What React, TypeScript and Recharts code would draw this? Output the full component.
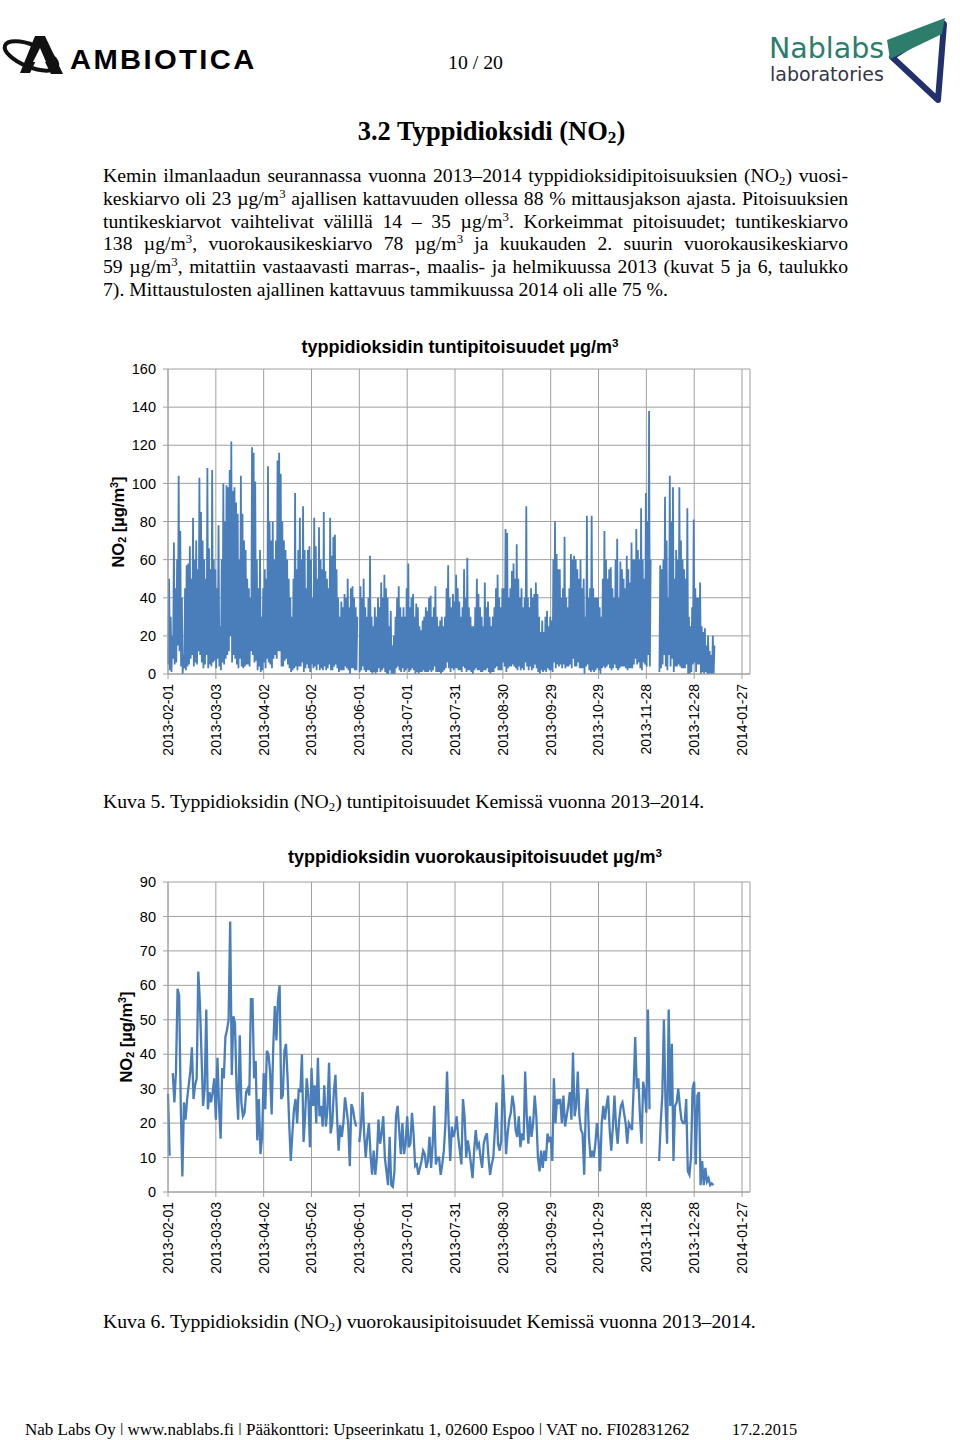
import React from "react";
import { LineChart, Line, XAxis, YAxis, CartesianGrid } from "recharts";

// x axis: days from 2013-02-01, Excel date axis with a 30 day major unit
const dayTicks = [0, 30, 60, 90, 120, 150, 180, 210, 240, 270, 300, 330, 360];
const dateLabels = [
  "2013-02-01", "2013-03-03", "2013-04-02", "2013-05-02", "2013-06-01", "2013-07-01", "2013-07-31",
  "2013-08-30", "2013-09-29", "2013-10-29", "2013-11-28", "2013-12-28", "2014-01-27",
];
const hourTicks = [0, 20, 40, 60, 80, 100, 120, 140, 160];
const dayValueTicks = [0, 10, 20, 30, 40, 50, 60, 70, 80, 90];

// highest hourly NO2 of each day (µg/m3), read off Kuva 5; null = no data
const hourlyPeak = [
  50, 30, 20, 69, 45, 60, 104, 75, 40, 10,
  45, 57, 58, 67, 50, 82, 60, 70, 55, 103,
  85, 70, 60, 50, 108, 66, 55, 107, 60, 55,
  45, 78, 25, 60, 100, 80, 99, 98, 107, 122,
  96, 98, 90, 84, 60, 104, 84, 70, 65, 50,
  45, 40, 119, 116, 101, 60, 45, 65, 30, 45,
  55, 50, 109, 80, 70, 80, 60, 70, 112, 116,
  105, 80, 70, 65, 60, 50, 40, 30, 50, 95,
  55, 65, 82, 60, 88, 65, 45, 65, 67, 60,
  40, 82, 67, 50, 77, 60, 55, 85, 54, 50,
  45, 82, 62, 72, 73, 55, 40, 30, 38, 35,
  42, 40, 50, 35, 45, 46, 40, 35, 30, null,
  46, 40, 50, 35, 30, 40, 62, 30, 25, 35,
  30, 40, 35, 48, 40, 52, 45, 40, 25, 33,
  15, 20, 30, 40, 46, 35, 30, 35, 30, 45,
  58, 35, 40, 42, 30, 37, 35, 25, 23, 28,
  30, 35, 33, 40, 41, 30, 35, 46, 30, 25,
  28, 30, 25, 30, 45, 57, 40, 35, 42, 38,
  52, 45, 38, 30, 35, 55, 40, 61, 35, 30,
  25, 25, 35, 50, 42, 35, 30, 25, 48, 35,
  38, 30, 25, 30, 35, 45, 52, 40, 35, 45,
  45, 76, 74, 40, 45, 54, 58, 50, 68, 50,
  40, 45, 35, 40, 88, 40, 35, 45, 40, 42,
  48, 42, 30, 22, 28, 22, 30, 33, 25, 30,
  28, 60, 80, 63, 55, 55, 40, 45, 72, 40,
  35, 45, 63, 60, 62, 60, 55, 50, 60, 45,
  50, 30, 83, 40, 45, 83, 45, 40, 40, 40,
  35, 30, 50, 75, 60, 50, 55, 56, 45, 40,
  60, 71, 40, 59, 55, 50, 45, 62, 55, 48,
  69, 60, 60, 76, 65, 60, 87, 60, 50, 95,
  80, 138, 60, null, null, null, null, null, 57, 55,
  60, 93, 70, 40, 104, 80, 98, 50, 65, 60,
  98, 70, 60, 55, 50, 87, 30, 25, 35, 81,
  45, 40, 40, 48, 25, 22, 24, 15, 20, 12,
  10, 20, 15,
];

// lowest hourly NO2 of each day (µg/m3), estimated from the bottom of Kuva 5
const hourlyLow = [
  5, 2, 1, 8, 5, 6, 15, 12, 4, 0,
  3, 2, 4, 5, 8, 10, 4, 6, 5, 12,
  10, 6, 3, 5, 10, 3, 5, 4, 6, 7,
  3, 8, 4, 2, 6, 5, 8, 10, 12, 20,
  6, 10, 8, 5, 3, 8, 4, 3, 4, 5,
  5, 4, 12, 10, 6, 7, 2, 4, 1, 2,
  6, 3, 8, 6, 5, 3, 8, 10, 8, 12,
  12, 4, 4, 7, 8, 5, 3, 1, 2, 3,
  4, 2, 4, 4, 6, 1, 3, 5, 3, 1,
  5, 3, 4, 2, 5, 2, 3, 2, 4, 2,
  3, 5, 2, 2, 4, 5, 3, 1, 2, 2,
  2, 4, 3, 2, 0, 3, 3, 2, 2, null,
  1, 2, 4, 2, 1, 2, 2, 1, 0, 1,
  0, 1, 3, 1, 2, 3, 1, 0, 0, 2,
  0, 0, 0, 3, 4, 2, 1, 3, 1, 2,
  3, 1, 2, 3, 2, 0, 1, 0, 1, 1,
  2, 1, 1, 1, 2, 1, 2, 4, 1, 1,
  1, 0, 1, 2, 3, 6, 3, 1, 3, 2,
  3, 3, 2, 2, 1, 4, 3, 1, 2, 2,
  1, 0, 2, 3, 2, 2, 1, 1, 2, 2,
  3, 1, 0, 1, 1, 3, 4, 2, 2, 2,
  6, 4, 1, 3, 4, 4, 5, 4, 3, 2,
  4, 2, 3, 2, 6, 4, 2, 4, 2, 3,
  5, 3, 1, 0, 2, 1, 2, 1, 3, 2,
  2, 1, 6, 3, 5, 4, 5, 3, 5, 3,
  4, 4, 5, 3, 8, 4, 4, 6, 3, 3,
  3, 0, 4, 5, 2, 1, 2, 1, 2, 3,
  2, 0, 3, 4, 3, 4, 5, 3, 2, 3,
  5, 3, 2, 3, 4, 4, 4, 3, 2, 3,
  3, 3, 5, 8, 5, 6, 3, 2, 6, 5,
  4, 10, 4, null, null, null, null, null, 1, 3,
  5, 10, 4, 2, 10, 4, 8, 1, 4, 4,
  5, 4, 3, 3, 3, 5, 0, 0, 1, 5,
  6, 1, 5, 5, 0, 1, 0, 1, 0, 0,
  0, 0, 0,
];

// daily mean NO2 (µg/m3), read off Kuva 6; null = no data
const dailyMean = [
  28.5, 10.5, null, 34.5, 26, 35, 59, 57, 25, 4.5,
  26, 21, 27, 31, 35, 42, 27, 31, 33, 64,
  55, 40, 25, 30, 53, 24, 29, 26, 29, 33,
  21, 39, 25, 15.5, 36, 33, 45, 47, 50, 78.5,
  34, 51, 49, 30, 21, 45.5, 26, 22, 23, 29,
  30, 28, 56, 56, 33, 38, 15, 27, 11, 16,
  34.5, 24, 41, 40, 35, 22.5, 42, 54, 44, 56,
  60, 27, 28, 41, 43, 33, 20, 9, 17, 24,
  27, 20, 30, 29, 40, 14.5, 22, 33, 28, 13,
  36, 25, 31, 20, 39, 22, 25, 19, 31, 19,
  24, 37.5, 17, 20, 29, 34, 22, 12, 19.5, 16,
  20, 27.5, 24, 20, 7.5, 25.5, 24, 21, 19, null,
  14.5, 19, 29, 17, 10, 16, 20, 11, 5, 12,
  5, 10, 21, 14, 17, 22, 10, 6, 2, 16,
  2, 1.5, 6, 22, 25, 18, 11, 20, 11, 14,
  22, 13, 14, 23, 17, 7.5, 8, 5, 7, 9,
  12, 11, 7, 9, 16, 7, 14, 25, 8, 10,
  10, 5, 8, 12, 20, 35, 20, 9, 19, 16,
  18, 22, 16, 12, 8, 27, 22, 10, 15, 12,
  8, 4, 12, 18, 13, 14, 10, 7, 14, 16,
  17, 10, 5, 8, 10, 18, 26, 14, 12, 15,
  34, 25, 11, 17, 21, 23, 28, 25, 18, 16,
  22, 13, 17, 15, 35, 22, 14, 22, 16, 20,
  28, 22, 10, 6, 12, 7, 12, 9, 17, 15,
  16, 9, 33, 20, 27, 26, 27, 20, 28, 19,
  22, 25, 29, 21, 40.5, 22, 25, 35, 22, 18,
  17, 5, 24, 30, 16, 10, 12, 10, 14, 20,
  15, 6, 20, 25, 21, 25, 28, 18, 12, 19,
  28, 19, 14, 21, 25, 26, 23, 20, 14, 20,
  19, 18, 30, 45, 30, 33, 22, 14, 32, 29,
  23, 53, 24, null, null, null, null, null, 9, 20,
  28, 50, 26, 14, 53, 25, 43, 9, 25, 26,
  30, 25, 21, 20, 20, 27, 6, 5, 10, 30,
  32, 8, 28, 29, 2, 9, 2, 7, 3, 4,
  2, 2.5, 2,
];

// each day drawn as its low and its peak, so the line zigzags like the hourly trace
const hourlyData = hourlyPeak.flatMap((peak, i) => [
  { day: i + 0.2, v: hourlyLow[i] },
  { day: i + 0.7, v: peak },
]);
const dailyData = dailyMean.map((v, i) => ({ day: i, v }));

const BLUE = "#4a7ebb";
const GRID = "#a0a0a0";
const SANS = "'Liberation Sans', Arial, sans-serif";
const SERIF = "'Liberation Serif', 'Times New Roman', serif";

function DateTick({ x, y, payload }: any) {
  const label = dateLabels[dayTicks.indexOf(payload.value)];
  return (
    <text x={x} y={y} transform={`rotate(-90 ${x} ${y})`} textAnchor="end" dy="0.35em"
      fontSize={14} fontFamily={SANS} fill="#000">
      {label}
    </text>
  );
}

const sup: React.CSSProperties = { fontSize: "0.65em", position: "relative", top: "-0.55em", lineHeight: 0 };
const sub: React.CSSProperties = { fontSize: "0.65em", position: "relative", top: "0.2em", lineHeight: 0 };

function AxisTitle({ cx, cy }: { cx: number; cy: number }) {
  return (
    <div style={{
      position: "absolute", left: cx - 60, top: cy - 10, width: 120, height: 20, lineHeight: "20px",
      textAlign: "center", transform: "rotate(-90deg)", fontFamily: SANS, fontWeight: "bold", fontSize: 16.5,
      whiteSpace: "nowrap",
    }}>
      NO<span style={sub}>2</span> [µg/m<span style={sup}>3</span>]
    </div>
  );
}

function ChartTitle({ cx, cy, text }: { cx: number; cy: number; text: string }) {
  return (
    <div style={{
      position: "absolute", left: cx - 250, top: cy - 12, width: 500, height: 24, lineHeight: "24px",
      textAlign: "center", fontFamily: SANS, fontWeight: "bold", fontSize: 18, whiteSpace: "nowrap",
    }}>
      {text} µg/m<span style={sup}>3</span>
    </div>
  );
}

const lineStyle = (last: boolean): React.CSSProperties => ({
  textAlign: "justify", textAlignLast: last ? "left" : "justify", whiteSpace: "nowrap", height: 22.8,
});

export default function App() {
  const axisProps = {
    axisLine: { stroke: GRID }, tickLine: { stroke: GRID }, tickSize: 5,
  };
  const yTick = { fill: "#000", fontSize: 14.5, fontFamily: SANS };
  return (
    <div style={{ position: "absolute", left: 0, top: 0, width: 960, height: 1440, background: "#fff", color: "#000", overflow: "hidden" }}>
      {/* header */}
      <svg style={{ position: "absolute", left: 0, top: 28 }} width={70} height={52}>
        <ellipse cx={31} cy={28} rx={28} ry={11} transform="rotate(22 31 28)" fill="none" stroke="#111" strokeWidth={4} />
        <polygon points="20,45 35,8 45,8 63,46 51,46 40,24 30,45" fill="#111" />
        <polygon points="33,34 40,20 46,34" fill="#fff" />
      </svg>
      <div style={{ position: "absolute", left: 70, top: 44, fontFamily: SANS, fontWeight: "bold", fontSize: 27, letterSpacing: 2.2, lineHeight: "32px", transform: "scaleX(1.08)", transformOrigin: "left center" }}>
        AMBIOTICA
      </div>
      <div style={{ position: "absolute", left: 448, top: 50, fontFamily: SERIF, fontSize: 19.8, lineHeight: "24px" }}>10 / 20</div>
      <div style={{ position: "absolute", left: 769, top: 35, fontFamily: "'DejaVu Sans', sans-serif", fontSize: 28.5, color: "#2c7d6c", lineHeight: "28px" }}>
        Nablabs
      </div>
      <div style={{ position: "absolute", left: 770, top: 64, fontFamily: "'DejaVu Sans', sans-serif", fontSize: 19, color: "#34364a", lineHeight: "20px" }}>
        laboratories
      </div>
      <svg style={{ position: "absolute", left: 882, top: 12 }} width={70} height={95}>
        <polygon points="10,45 62,12 56,88" fill="none" stroke="#23306e" strokeWidth={6} strokeLinejoin="round" />
        <polygon points="5,28 63,6 60,22 8,47" fill="#2c7d6c" />
      </svg>

      <div style={{ position: "absolute", left: 0, width: 983, top: 115, textAlign: "center", fontFamily: SERIF, fontWeight: "bold", fontSize: 26.5, lineHeight: "32px" }}>
        3.2 Typpidioksidi (NO<span style={sub}>2</span>)
      </div>

      <div style={{ position: "absolute", left: 103, top: 164, width: 745, fontFamily: SERIF, fontSize: 19.7, lineHeight: "22.8px" }}>
        <div style={lineStyle(false)}>Kemin ilmanlaadun seurannassa vuonna 2013–2014 typpidioksidipitoisuuksien (NO<span style={sub}>2</span>) vuosi-</div>
        <div style={lineStyle(false)}>keskiarvo oli 23 µg/m<span style={sup}>3</span> ajallisen kattavuuden ollessa 88 % mittausjakson ajasta. Pitoisuuksien</div>
        <div style={lineStyle(false)}>tuntikeskiarvot vaihtelivat välillä 14 – 35 µg/m<span style={sup}>3</span>. Korkeimmat pitoisuudet; tuntikeskiarvo</div>
        <div style={lineStyle(false)}>138 µg/m<span style={sup}>3</span>, vuorokausikeskiarvo 78 µg/m<span style={sup}>3</span> ja kuukauden 2. suurin vuorokausikeskiarvo</div>
        <div style={lineStyle(false)}>59 µg/m<span style={sup}>3</span>, mitattiin vastaavasti marras-, maalis- ja helmikuussa 2013 (kuvat 5 ja 6, taulukko</div>
        <div style={lineStyle(true)}>7). Mittaustulosten ajallinen kattavuus tammikuussa 2014 oli alle 75 %.</div>
      </div>

      {/* Kuva 5: hourly values */}
      <ChartTitle cx={460} cy={347} text="typpidioksidin tuntipitoisuudet" />
      <AxisTitle cx={118} cy={522} />
      <div style={{ position: "absolute", left: 100, top: 340 }}>
        <LineChart width={660} height={430} data={hourlyData} margin={{ top: 29, right: 10, bottom: 0, left: 0 }}>
          <CartesianGrid stroke={GRID} />
          <XAxis type="number" dataKey="day" domain={[0, 365]} ticks={dayTicks} interval={0}
            height={96} tick={<DateTick />} tickMargin={5} {...axisProps} />
          <YAxis type="number" domain={[0, 160]} ticks={hourTicks} interval={0} width={68} tickMargin={7}
            tick={yTick} {...axisProps} />
          <Line type="linear" dataKey="v" stroke={BLUE} strokeWidth={1.8} dot={false} activeDot={false}
            connectNulls={false} isAnimationActive={false} />
        </LineChart>
      </div>
      <div style={{ position: "absolute", left: 103, top: 789, fontFamily: SERIF, fontSize: 19.7, lineHeight: "24px" }}>
        Kuva 5. Typpidioksidin (NO<span style={sub}>2</span>) tuntipitoisuudet Kemissä vuonna 2013–2014.
      </div>

      {/* Kuva 6: daily values */}
      <ChartTitle cx={475} cy={857} text="typpidioksidin vuorokausipitoisuudet" />
      <AxisTitle cx={126} cy={1037} />
      <div style={{ position: "absolute", left: 100, top: 850 }}>
        <LineChart width={660} height={430} data={dailyData} margin={{ top: 32, right: 10, bottom: 0, left: 0 }}>
          <CartesianGrid stroke={GRID} />
          <XAxis type="number" dataKey="day" domain={[0, 365]} ticks={dayTicks} interval={0}
            height={88} tick={<DateTick />} tickMargin={5} {...axisProps} />
          <YAxis type="number" domain={[0, 90]} ticks={dayValueTicks} interval={0} width={68} tickMargin={7}
            tick={yTick} {...axisProps} />
          <Line type="linear" dataKey="v" stroke={BLUE} strokeWidth={2.3} dot={false} activeDot={false}
            connectNulls={false} isAnimationActive={false} />
        </LineChart>
      </div>
      <div style={{ position: "absolute", left: 103, top: 1309, fontFamily: SERIF, fontSize: 19.7, lineHeight: "24px" }}>
        Kuva 6. Typpidioksidin (NO<span style={sub}>2</span>) vuorokausipitoisuudet Kemissä vuonna 2013–2014.
      </div>

      {/* footer */}
      <div style={{ position: "absolute", left: 25, top: 1419, fontFamily: SERIF, fontSize: 17, lineHeight: "22px", whiteSpace: "nowrap" }}>
        Nab Labs Oy ǀ www.nablabs.fi ǀ Pääkonttori: Upseerinkatu 1, 02600 Espoo ǀ VAT no. FI02831262
      </div>
      <div style={{ position: "absolute", left: 732, top: 1419, fontFamily: SERIF, fontSize: 16.3, lineHeight: "22px" }}>
        17.2.2015
      </div>
    </div>
  );
}
